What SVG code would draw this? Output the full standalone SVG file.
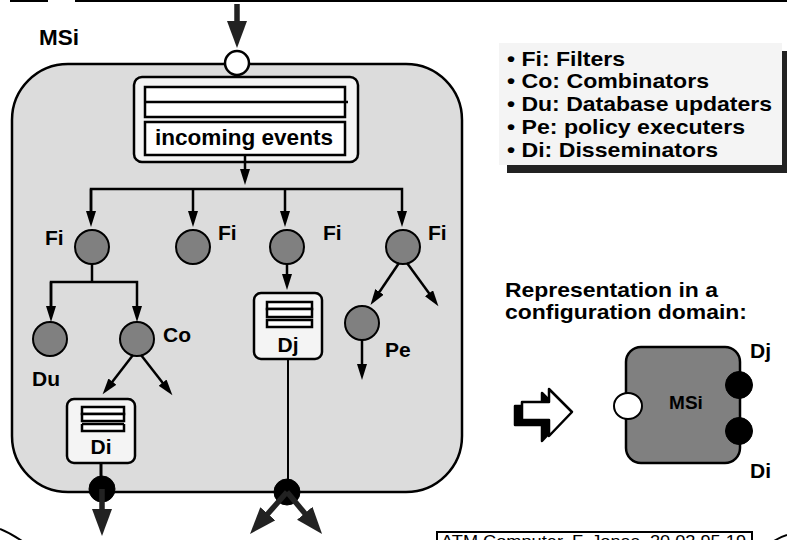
<svg xmlns="http://www.w3.org/2000/svg" width="787" height="540" viewBox="0 0 787 540">
  <style>
    text { font-family: "Liberation Sans", Arial, sans-serif; font-weight: bold; fill: #000; }
    .lbl { font-size: 21px; }
    .leg { font-size: 21px; }
    .edge { stroke: #000; stroke-width: 2.5; fill: none; }
    .thick { stroke: #222; stroke-width: 5.5; fill: none; }
    .proc { fill: #808080; stroke: #000; stroke-width: 2; }
    .port { fill: #000; stroke: #000; stroke-width: 1; }
    .store { fill: #f4f4f4; stroke: #000; stroke-width: 2.5; }
    .bar { fill: #fff; stroke: #000; stroke-width: 2.5; }
  </style>
  <defs>
    <marker id="head" markerUnits="userSpaceOnUse" markerWidth="17" markerHeight="11" refX="1" refY="5" orient="auto">
      <path d="M0,0 L16,5 L0,10 z" fill="#000"/>
    </marker>
    <marker id="bighead" markerUnits="userSpaceOnUse" markerWidth="28" markerHeight="21" refX="1" refY="10" orient="auto">
      <path d="M0,0 L27,10 L0,20 z" fill="#222"/>
    </marker>
  </defs>

  <rect width="787" height="540" fill="#fff"/>

  <!-- edge of the neighbouring frames -->
  <g id="frame-edges" fill="none" stroke="#000" stroke-width="2">
    <line x1="10" y1="1" x2="48" y2="1"/>
    <line x1="75" y1="1" x2="787" y2="1"/>
    <path d="M0,529 Q10,533 22,541"/>
    <path d="M774,541 Q780,537 787,535"/>
  </g>

  <!-- mediation service container -->
  <g id="msi">
    <rect x="12" y="64" width="450" height="428" rx="56" ry="56" fill="#dcdcdc" stroke="#000" stroke-width="2.5"/>
    <text x="39" y="45" font-size="22" textLength="40" lengthAdjust="spacingAndGlyphs">MSi</text>
  </g>

  <!-- input port -->
  <g id="in-port">
    <circle cx="237" cy="63" r="12" fill="#fff" stroke="#000" stroke-width="2.5"/>
  </g>

  <!-- incoming event queue -->
  <g id="incoming">
    <rect x="134" y="77" width="224" height="85" rx="8" ry="8" class="store"/>
    <rect x="145" y="87" width="200" height="30" class="bar"/>
    <line x1="145" y1="102" x2="348" y2="102" stroke="#000" stroke-width="2.5"/>
    <rect x="145" y="122" width="200" height="33" class="bar"/>
    <text x="155" y="145" font-size="22" textLength="178" lengthAdjust="spacingAndGlyphs">incoming events</text>
  </g>

  <!-- filters -->
  <g id="fi1">
    <circle cx="92" cy="247" r="17" class="proc"/>
    <text x="45" y="245" class="lbl">Fi</text>
  </g>
  <g id="fi2">
    <circle cx="193" cy="247" r="17" class="proc"/>
    <text x="218" y="240" class="lbl">Fi</text>
  </g>
  <g id="fi3">
    <circle cx="287" cy="247" r="17" class="proc"/>
    <text x="323" y="240" class="lbl">Fi</text>
  </g>
  <g id="fi4">
    <circle cx="403" cy="247" r="17" class="proc"/>
    <text x="428" y="240" class="lbl">Fi</text>
  </g>

  <!-- database updater, combinator, policy executer -->
  <g id="du">
    <circle cx="50" cy="339" r="17" class="proc"/>
    <text x="32" y="386" class="lbl">Du</text>
  </g>
  <g id="co">
    <circle cx="137" cy="339" r="17" class="proc"/>
    <text x="163" y="342" class="lbl">Co</text>
  </g>
  <g id="pe">
    <circle cx="362" cy="323" r="17" class="proc"/>
    <text x="385" y="357" class="lbl">Pe</text>
  </g>

  <!-- disseminators -->
  <g id="dj">
    <rect x="254" y="293" width="68" height="66" rx="7" ry="7" class="store"/>
    <rect x="267" y="302" width="45" height="7" class="bar"/>
    <rect x="267" y="309" width="45" height="8" class="bar"/>
    <rect x="267" y="320" width="45" height="7" class="bar"/>
    <text x="288" y="352" class="lbl" text-anchor="middle">Dj</text>
  </g>
  <g id="di">
    <rect x="67" y="399" width="68" height="64" rx="7" ry="7" class="store"/>
    <rect x="82" y="407" width="42" height="7" class="bar"/>
    <rect x="82" y="414" width="42" height="7" class="bar"/>
    <path d="M82,424 L82,431 L124,431 L124,424 M82,424 L124,424" fill="#fff" stroke="#000" stroke-width="2.5"/>
    <text x="101" y="454" class="lbl" text-anchor="middle">Di</text>
  </g>

  <!-- output ports -->
  <g id="out-di">
    <circle cx="102" cy="489" r="13" class="port"/>
  </g>
  <g id="out-dj">
    <circle cx="287" cy="492" r="13" class="port"/>
  </g>

  <!-- connectors -->
  <g id="connectors">
    <line x1="237" y1="4" x2="237" y2="22" class="thick" marker-end="url(#bighead)"/>
    <line x1="245" y1="155" x2="245" y2="170" class="edge" marker-end="url(#head)"/>
    <polyline points="91,212 91,189 402,189 402,212" class="edge" marker-end="url(#head)"/>
    <line x1="91" y1="189" x2="91" y2="212" class="edge" marker-end="url(#head)"/>
    <line x1="193" y1="189" x2="193" y2="212" class="edge" marker-end="url(#head)"/>
    <line x1="285" y1="189" x2="285" y2="212" class="edge" marker-end="url(#head)"/>
    <line x1="92" y1="264" x2="92" y2="282" class="edge"/>
    <polyline points="51,307 51,282 137,282 137,307" class="edge" marker-end="url(#head)"/>
    <line x1="51" y1="282" x2="51" y2="307" class="edge" marker-end="url(#head)"/>
    <line x1="133" y1="355" x2="111.8" y2="382.4" class="edge" marker-end="url(#head)"/>
    <line x1="141" y1="355" x2="163.2" y2="383.4" class="edge" marker-end="url(#head)"/>
    <line x1="287" y1="264" x2="287" y2="275" class="edge" marker-end="url(#head)"/>
    <line x1="399" y1="263" x2="378.9" y2="292.7" class="edge" marker-end="url(#head)"/>
    <line x1="407" y1="263" x2="429.6" y2="294.1" class="edge" marker-end="url(#head)"/>
    <line x1="362" y1="340" x2="362" y2="365" class="edge" marker-end="url(#head)"/>
    <line x1="288" y1="359" x2="288" y2="480" stroke="#000" stroke-width="2"/>
    <line x1="101" y1="463" x2="101" y2="478" stroke="#000" stroke-width="3"/>
    <line x1="102" y1="489" x2="102" y2="510" class="thick" marker-end="url(#bighead)"/>
    <line x1="287" y1="492" x2="267.2" y2="514.5" class="thick" marker-end="url(#bighead)"/>
    <line x1="287" y1="492" x2="305.4" y2="514" class="thick" marker-end="url(#bighead)"/>
  </g>

  <!-- legend -->
  <g id="legend">
    <rect x="507" y="51" width="283" height="122" fill="#222"/>
    <rect x="499" y="43" width="283" height="122" fill="#f4f4f4"/>
    <text x="507" y="66" class="leg" textLength="118" lengthAdjust="spacingAndGlyphs">• Fi: Filters</text>
    <text x="507" y="88" class="leg" textLength="202" lengthAdjust="spacingAndGlyphs">• Co: Combinators</text>
    <text x="507" y="111" class="leg" textLength="265" lengthAdjust="spacingAndGlyphs">• Du: Database updaters</text>
    <text x="507" y="134" class="leg" textLength="238" lengthAdjust="spacingAndGlyphs">• Pe: policy executers</text>
    <text x="507" y="157" class="leg" textLength="211" lengthAdjust="spacingAndGlyphs">• Di: Disseminators</text>
  </g>

  <!-- representation in a configuration domain -->
  <g id="caption">
    <text x="505" y="297" class="lbl" textLength="213" lengthAdjust="spacingAndGlyphs">Representation in a</text>
    <text x="505" y="319" class="lbl" textLength="242" lengthAdjust="spacingAndGlyphs">configuration domain:</text>
  </g>
  <g id="maps-to">
    <polygon points="515,406 542,406 542,393 565,416 542,441 542,425 515,425" fill="#000" stroke="#000" stroke-width="2.5" stroke-linejoin="round"/>
    <polygon points="522,402 549,402 549,389 572,412 549,436 549,420 522,420" fill="#fff" stroke="#000" stroke-width="2.5" stroke-linejoin="round"/>
  </g>
  <g id="msi-component">
    <rect x="626" y="347" width="114" height="116" rx="15" ry="15" fill="#808080" stroke="#000" stroke-width="2.5"/>
    <ellipse cx="628" cy="406" rx="14" ry="13" fill="#fff" stroke="#000" stroke-width="2"/>
    <circle cx="739" cy="385" r="13.5" class="port"/>
    <circle cx="739" cy="431" r="13.5" class="port"/>
    <text x="686" y="409" font-size="19" text-anchor="middle">MSi</text>
    <text x="750" y="358" class="lbl">Dj</text>
    <text x="750" y="478" class="lbl">Di</text>
  </g>

  <!-- footer, running off the bottom edge -->
  <g id="footer">
    <rect x="437" y="532" width="315" height="22" fill="#fff" stroke="#000" stroke-width="2"/>
    <text x="441" y="547" font-size="17" style="font-weight:normal" textLength="305" lengthAdjust="spacingAndGlyphs">ATM Computer, F. Jonas, 20.02.95 19</text>
  </g>
</svg>
